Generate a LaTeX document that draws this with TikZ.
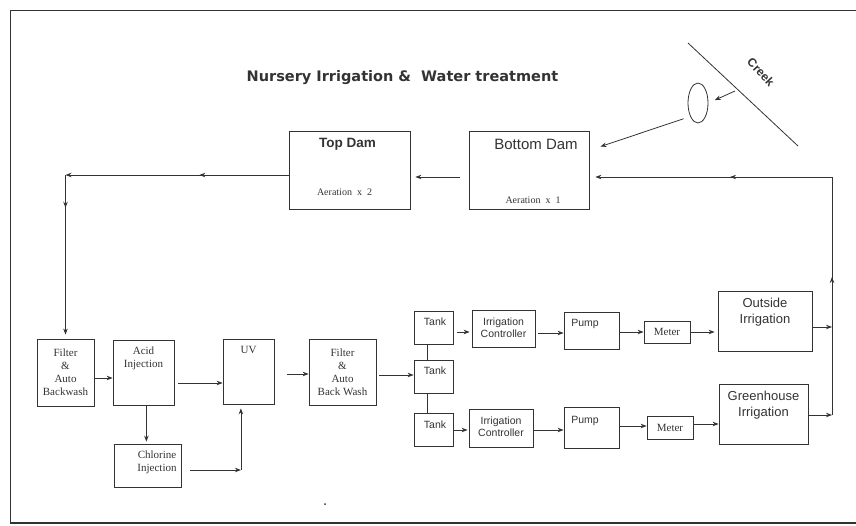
\documentclass[tikz,border=0pt]{standalone}
\usepackage{fontspec}
\setmainfont{Liberation Serif}
\setsansfont{Liberation Sans}
\newfontfamily\titlefont{DejaVu Sans}
\usetikzlibrary{arrows.meta,positioning,shapes.geometric,decorations.markings}
\tikzset{box/.style 2 args={draw,rectangle,minimum width=#1pt,minimum height=#2pt},
         midarrow/.style={postaction={decorate},
           decoration={markings,mark=at position #1 with {\arrow{>}}}}}

\begin{document}
\begin{tikzpicture}[x=1pt,y=-1pt,->,>={Stealth[length=6pt,width=4.5pt]},line width=0.8pt,color=black!80]
  \tikzstyle{every node}=[inner sep=0pt,align=center]
  \tikzstyle{serif}=[font=\fontsize{11}{13}\selectfont]
  \tikzstyle{sans}=[font=\sffamily\fontsize{10.5}{12}\selectfont]
  \tikzstyle{bigsans}=[font=\sffamily\fontsize{13}{15.5}\selectfont]
  \tikzstyle{aer}=[font=\fontsize{10}{12}\selectfont]

  \useasboundingbox (0,0) rectangle (856,525);
  \draw[-,line width=1.6pt] (856,10.5) -- (10.5,10.5) -- (10.5,523) -- (856,523);

  % title, creek and pond
  \node[font=\titlefont\bfseries\fontsize{14.5}{16}\selectfont] (title) at (402.5,78)
       {Nursery Irrigation \&~~Water treatment};
  \draw[-] (688,43) coordinate (creekA) -- (798,146) coordinate (creekB);
  \node[font=\sffamily\bfseries\fontsize{12}{14}\selectfont,rotate=-47] (creek) at (761,72) {Creek};
  \node[draw,ellipse,minimum width=20pt,minimum height=40pt] (pond) at (698,103) {};
  \coordinate (creekpt) at (735,91);
  \draw[shorten >=7pt] (creekpt) -- (pond.east);

  % dams
  \node[box={121}{78}] (topdam) at (349.5,170) {};
  \node[box={120}{78}] (bottomdam) at (529,170) {};
  \node[font=\sffamily\bfseries\fontsize{13.5}{15}\selectfont,below=7.2pt of topdam.north,xshift=-2pt] (topdamname) {Top Dam};
  \node[aer,above=13.7pt of topdam.south,xshift=-5pt] (topdamaer) {Aeration~ x~ 2};
  \node[font=\sffamily\fontsize{15}{17}\selectfont,below=8.6pt of bottomdam.north,xshift=7pt] (bottomdamname) {Bottom Dam};
  \node[aer,above=5.7pt of bottomdam.south,xshift=4pt] (bottomdamaer) {Aeration~ x~ 1};
  \draw[shorten <=7pt] (pond.240) -- ([xshift=11pt,yshift=-16pt]bottomdam.north east);
  \draw[shorten <=9pt,shorten >=5pt] (bottomdam.west |- 0,177) -- (topdam.east |- 0,177);

  % treatment line
  \node[box={57}{67},serif] (filter1) at (65.5,372.5) {Filter\\\&\\Auto\\Backwash};
  \node[box={61}{65}] (acid) at (143.5,372.5) {};
  \node[serif,below=7.3pt of acid.north] (acidtxt) {Acid\\Injection};
  \node[box={51}{65}] (uv) at (248.5,371.5) {};
  \node[serif,below=7.4pt of uv.north] (uvtxt) {UV};
  \node[box={67}{43}] (chlor) at (147.5,465.5) {};
  \node[serif,below=7.2pt of chlor.north,xshift=9.5pt] (chlortxt) {Chlorine\\Injection};
  \node[box={67}{66},serif] (filter2) at (342.5,372) {Filter\\\&\\Auto\\Back Wash};

  \coordinate (turn) at (65.5,175);
  \draw[midarrow=0.4] (topdam.west |- turn) -- (turn);
  \draw[midarrow=0.2,shorten >=4pt] (turn) -- (filter1);
  \draw (filter1.east |- 0,378) -- (acid.west |- 0,378);
  \draw[shorten <=4pt] (acid.east |- 0,383) -- (uv.west |- 0,383);
  \draw[shorten >=2pt] (acid.275) -- (acid.275 |- chlor.north);
  \coordinate (chlout) at (chlor.east |- 0,470);
  \coordinate (chlturn) at (uv.257 |- 0,470);
  \draw[shorten <=9pt] (chlout) -- (chlturn);
  \draw[shorten >=4pt] (chlturn) -- (uv.257);
  \draw[shorten <=13pt] (uv.east |- 0,374) -- (filter2.west |- 0,374);

  % tanks
  \node[box={39}{33}] (tank1) at (433.5,327.5) {};
  \node[box={39}{33}] (tank2) at (433.5,376.5) {};
  \node[box={39}{33}] (tank3) at (433.5,430) {};
  \foreach \t in {tank1,tank2,tank3}
    \node[sans,below=7pt of \t.north,xshift=1.5pt] (txt\t) {Tank};
  \draw[shorten <=3pt] (filter2.east |- 0,375) -- (tank2.west |- 0,375);
  \draw[-] ([xshift=-6.5pt]tank1.south) -- ([xshift=-6.5pt]tank2.north);
  \draw[-] ([xshift=-6.5pt]tank2.south) -- ([xshift=-6.5pt]tank3.north);

  % outside irrigation row
  \node[box={63}{37}] (ic1) at (503.5,328.5) {};
  \node[sans,below=8.2pt of ic1.north] (ic1txt) {Irrigation\\Controller};
  \node[box={55}{37}] (pump1) at (591.5,330.5) {};
  \node[sans,below=7.2pt of pump1.north,xshift=-6.5pt] (pump1txt) {Pump};
  \node[box={46}{22},serif] (meter1) at (667,332) {Meter};
  \node[box={94}{60}] (outside) at (765,321) {};
  \node[bigsans,below=7.3pt of outside.north] (outsidetxt) {Outside\\Irrigation};

  % greenhouse irrigation row
  \node[box={64}{38}] (ic2) at (501,428) {};
  \node[sans,below=8.2pt of ic2.north] (ic2txt) {Irrigation\\Controller};
  \node[box={55}{41}] (pump2) at (591.5,427.5) {};
  \node[sans,below=9.2pt of pump2.north,xshift=-6.5pt] (pump2txt) {Pump};
  \node[box={46}{23},serif] (meter2) at (670,427.5) {Meter};
  \node[box={89}{60}] (green) at (763.5,414) {};
  \node[bigsans,below=7.3pt of green.north] (greentxt) {Greenhouse\\Irrigation};

  \draw[shorten <=4pt,shorten >=2pt] (tank1.east |- 0,332) -- (ic1.west |- 0,332);
  \draw[shorten <=3pt] (ic1.east |- 0,333) -- (pump1.west |- 0,333);
  \draw (pump1.east |- 0,332) -- (meter1.west |- 0,332);
  \draw[shorten >=3pt] (meter1.east) -- (outside.west |- meter1.east);
  \draw[shorten >=1pt] (tank3.east |- 0,430) -- (ic2.west |- 0,430);
  \draw (ic2.east |- 0,430) -- (pump2.west |- 0,430);
  \draw (pump2.east |- 0,426) -- (meter2.west |- 0,426);
  \draw (meter2.east |- 0,424) -- (green.west |- 0,424);

  % return to the bottom dam
  \coordinate (ret1) at (832,415);
  \coordinate (ret2) at (832,177);
  \draw (outside.east |- 0,327) -- (ret1 |- 0,327);
  \draw (green.east |- ret1) -- (ret1);
  \draw[-,midarrow=0.58] (ret1) -- (ret2);
  \draw[midarrow=0.42,shorten >=6pt] (ret2) -- (ret2 -| bottomdam.east);

  \fill (325,504) circle (1pt);
\end{tikzpicture}
\end{document}
